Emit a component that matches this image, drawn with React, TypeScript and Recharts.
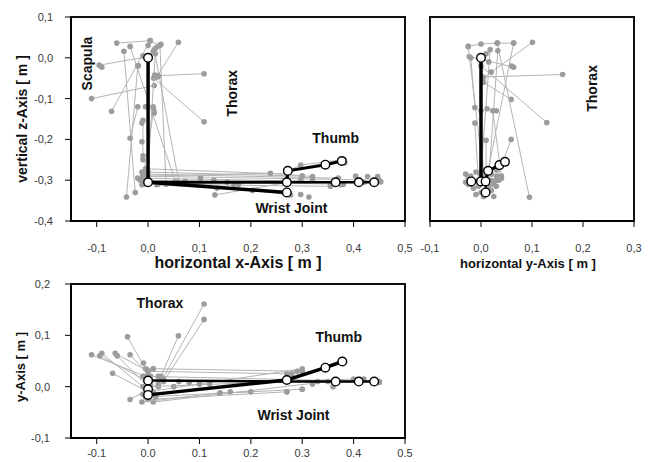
import React from 'react';
import { ScatterChart, Scatter, XAxis, YAxis, ReferenceArea, ReferenceDot, Label } from 'recharts';

type P = [number, number];

// ---------- Panel 1: horizontal x vs vertical z ----------
const xzTicksX = [-0.1, 0, 0.1, 0.2, 0.3, 0.4, 0.5];
const xzTicksY = [-0.4, -0.3, -0.2, -0.1, 0, 0.1];
const xzTraces: P[][] = [
  [[-0.061, 0.036], [0.004, 0.042], [0.022, 0.03]],
  [[0.059, 0.038], [0.017, -0.047]],
  [[-0.095, -0.018], [-0.003, 0.002]],
  [[-0.11, -0.1], [0.012, -0.068]],
  [[0.016, -0.044], [0.109, -0.039]],
  [[0.011, -0.05], [0.109, -0.157]],
  [[-0.071, -0.131], [0.004, 0.042]],
  [[-0.035, 0.028], [0.053, -0.303]],
  [[0.023, 0.03], [0.035, -0.31]],
  [[0.012, 0.02], [0.06, -0.305]],
  [[-0.02, -0.02], [-0.042, -0.341]],
  [[-0.047, 0.016], [-0.025, -0.33]],
  [[0.011, -0.128], [-0.012, -0.311]],
  [[-0.035, -0.197], [-0.02, -0.12]],
  [[0.014, 0.01], [0.0, -0.28]],
  [[-0.01, -0.153], [-0.01, -0.25]],
  [[-0.005, -0.272], [0.27, -0.285]],
  [[-0.005, -0.28], [0.3, -0.29]],
  [[-0.01, -0.285], [0.37, -0.295]],
  [[-0.008, -0.29], [0.45, -0.3]],
  [[-0.01, -0.295], [0.42, -0.305]],
  [[-0.012, -0.3], [0.38, -0.31]],
  [[0.02, -0.31], [0.355, -0.315]],
  [[0.13, -0.336], [0.297, -0.3]],
  [[0.0, -0.29], [0.238, -0.283], [0.32, -0.291]],
  [[0.017, -0.311], [0.203, -0.325], [0.277, -0.336]],
  [[0.274, -0.276], [0.297, -0.263], [0.381, -0.249]],
];
const xzPoints: P[] = [
  [-0.09, -0.023], [-0.019, -0.019], [0.013, -0.042], [0.02, -0.045], [-0.01, 0.005], [0.01, 0.015],
  [0.016, 0.025], [0.025, 0.033], [0.0, 0.03], [0.01, -0.12], [0.012, -0.135], [-0.005, -0.12],
  [-0.012, -0.16], [-0.012, -0.206], [-0.01, -0.24], [-0.012, -0.28], [-0.01, -0.29], [-0.015, -0.3],
  [-0.005, -0.31], [-0.02, -0.295], [0.049, -0.307], [0.072, -0.303], [0.102, -0.295], [0.128, -0.3],
  [0.154, -0.305], [0.176, -0.31], [0.134, -0.32], [0.167, -0.31], [0.355, -0.31], [0.375, -0.311],
  [0.404, -0.29], [0.427, -0.291], [0.447, -0.291], [0.453, -0.304], [0.383, -0.257], [0.297, -0.335],
  [0.313, -0.341], [0.3, -0.29], [0.32, -0.3],
];
const xzUpperArm: P[] = [[0, 0], [0, -0.305]];
const xzForearmWrist: P[] = [[0, -0.305], [0.27, -0.33]];
const xzForearm: P[] = [[0, -0.305], [0.27, -0.305]];
const xzHand: P[] = [[0.27, -0.305], [0.365, -0.305], [0.41, -0.305], [0.44, -0.305]];
const xzThumb: P[] = [[0.27, -0.305], [0.272, -0.277], [0.345, -0.262], [0.377, -0.253]];

// ---------- Panel 2: horizontal y vs vertical z ----------
const yzTicksX = [-0.1, 0, 0.1, 0.2, 0.3];
const yzTraces: P[][] = [
  [[-0.025, 0.028], [0.0, 0.034], [0.032, 0.036], [0.064, 0.036]],
  [[0.101, 0.038], [0.004, -0.05]],
  [[0.004, -0.047], [0.16, -0.041]],
  [[-0.023, 0.003], [0.064, -0.023]],
  [[0.0, -0.02], [0.129, -0.159]],
  [[0.059, -0.102], [0.005, -0.06]],
  [[-0.025, 0.028], [0.005, -0.29]],
  [[-0.02, 0.0], [-0.012, -0.122]],
  [[0.064, 0.036], [0.01, -0.3]],
  [[0.032, 0.036], [0.095, -0.342]],
  [[0.018, 0.02], [0.0, -0.28]],
  [[0.033, 0.017], [0.015, -0.3]],
  [[0.0, -0.13], [0.005, -0.3]],
  [[0.059, -0.2], [0.03, -0.3]],
  [[0.023, -0.13], [0.04, -0.29]],
  [[-0.012, -0.16], [-0.005, -0.3]],
  [[0.01, -0.202], [0.01, -0.28]],
];
const yzPoints: P[] = [
  [0.01, 0.01], [0.015, -0.01], [0.02, -0.035], [0.06, -0.02], [0.012, -0.125], [0.03, -0.13],
  [-0.03, -0.285], [-0.025, -0.295], [-0.02, -0.29], [-0.01, -0.28], [0.0, -0.285], [0.01, -0.29],
  [0.02, -0.285], [0.03, -0.29], [0.035, -0.3], [0.025, -0.31], [0.015, -0.315], [-0.005, -0.315],
  [-0.02, -0.31], [-0.03, -0.305], [-0.015, -0.32], [0.0, -0.33], [0.02, -0.325], [0.03, -0.315],
  [-0.01, -0.335], [0.005, -0.34], [0.025, -0.34], [0.01, -0.275], [-0.025, -0.31], [0.04, -0.295],
  [0.02, -0.3], [-0.005, -0.3], [0.03, -0.275],
];
const yzUpperArm: P[] = [[0, 0], [0, -0.303]];
const yzElbow: P[] = [[-0.019, -0.303], [0, -0.303], [0.009, -0.303]];
const yzWrist: P[] = [[0.009, -0.303], [0.009, -0.33]];
const yzThumb: P[] = [[0.009, -0.303], [0.014, -0.277], [0.036, -0.263], [0.047, -0.255]];

// ---------- Panel 3: horizontal x vs y ----------
const xyTicksX = [-0.1, 0, 0.1, 0.2, 0.3, 0.4, 0.5];
const xyTicksY = [-0.1, 0, 0.1, 0.2];
const xyTraces: P[][] = [
  [[-0.11, 0.062], [-0.005, 0.02]],
  [[-0.094, 0.06], [0.0, 0.01]],
  [[-0.09, 0.065], [-0.01, 0.0]],
  [[-0.064, 0.065], [0.0, 0.03]],
  [[-0.06, 0.06], [0.01, -0.01]],
  [[-0.04, 0.097], [-0.005, 0.035]],
  [[-0.035, 0.062], [0.005, 0.02]],
  [[-0.069, 0.026], [0.0, -0.01]],
  [[-0.035, -0.025], [0.02, 0.005]],
  [[0.109, 0.161], [0.02, 0.0]],
  [[0.109, 0.131], [0.03, 0.01]],
  [[0.059, 0.099], [0.025, 0.02]],
  [[0.0, 0.03], [0.27, 0.025]],
  [[0.01, 0.035], [0.3, 0.03]],
  [[0.0, 0.02], [0.45, 0.01]],
  [[0.0, 0.0], [0.4, 0.015]],
  [[-0.005, -0.02], [0.3, -0.005]],
  [[0.0, -0.025], [0.27, -0.01]],
  [[0.01, -0.03], [0.35, 0.01]],
  [[0.0, -0.01], [0.3, 0.035]],
  [[-0.012, -0.03], [0.14, -0.012], [0.2, -0.01]],
];
const xyPoints: P[] = [
  [-0.009, 0.046], [-0.003, 0.034], [0.01, 0.035], [0.02, 0.02], [0.03, 0.015], [-0.01, 0.02],
  [0.005, 0.005], [-0.01, -0.015], [0.015, -0.02], [0.06, 0.01], [0.08, 0.008], [0.1, 0.005],
  [0.12, 0.005], [0.16, -0.01], [0.27, -0.01], [0.3, -0.005], [0.33, 0.01], [0.36, 0.0],
  [0.42, 0.015], [0.44, 0.01], [0.45, 0.008], [0.28, 0.025], [0.38, 0.05], [0.05, 0.0],
  [0.29, 0.03], [0.32, 0.005],
];
const xyShoulderElbow: P[] = [[0, 0.012], [0, -0.005], [0, -0.016]];
const xyRadiusThumb: P[] = [[0, -0.016], [0.27, 0.013], [0.345, 0.037], [0.378, 0.049]];
const xyHand: P[] = [[0, 0.012], [0.27, 0.01], [0.365, 0.01], [0.41, 0.01], [0.44, 0.01]];

const FONT = '"Liberation Sans", Arial, sans-serif';

const toPts = (a: P[]) => a.map(([x, y]) => ({ x, y }));
const fmtComma = (v: number) => v.toFixed(1).replace('.', ',').replace('-0,0', '0,0');
const fmtDot = (v: number) => v.toFixed(1).replace('-0.0', '0.0');

const GrayDot = (p: any) => <circle cx={p.cx} cy={p.cy} r={2.8} fill="#9c9c9c" />;
const WhiteDot = (p: any) => (
  <circle cx={p.cx} cy={p.cy} r={4.3} fill="#ffffff" stroke="#000" strokeWidth={1.4} />
);
const NoDot = () => <g />;

const tickStyle = { fontSize: 11, fill: '#3a3a3a', fontFamily: FONT };
const annoStyle = { fontSize: 14, fontWeight: 'bold', fill: '#111', fontFamily: FONT };

function grayLayer(traces: P[][], pts: P[], prefix: string) {
  const out: React.ReactNode[] = traces.map((t, i) => (
    <Scatter
      key={prefix + 't' + i}
      data={toPts(t)}
      line={{ stroke: '#b4b4b4', strokeWidth: 1 }}
      shape={GrayDot}
      isAnimationActive={false}
    />
  ));
  out.push(
    <Scatter key={prefix + 'pts'} data={toPts(pts)} shape={GrayDot} isAnimationActive={false} />
  );
  return out;
}

function bone(pts: P[], width: number, key: string) {
  return (
    <Scatter
      key={key}
      data={toPts(pts)}
      line={{ stroke: '#000', strokeWidth: width }}
      shape={NoDot}
      isAnimationActive={false}
    />
  );
}

function joints(pts: P[], key: string) {
  return <Scatter key={key} data={toPts(pts)} shape={WhiteDot} isAnimationActive={false} />;
}

function anno(x: number, y: number, text: string, rotate: boolean) {
  return (
    <ReferenceDot
      key={text + x + y}
      x={x}
      y={y}
      r={0}
      fill="none"
      stroke="none"
      ifOverflow="visible"
      label={{ value: text, position: 'center', angle: rotate ? -90 : 0, ...annoStyle }}
    />
  );
}

export default function App() {
  return (
    <div style={{ position: 'absolute', left: 0, top: 0, width: 652, height: 462, background: '#fff' }}>
      {/* Panel 1 */}
      <div style={{ position: 'absolute', left: 0, top: 0 }}>
        <ScatterChart width={420} height={280} margin={{ top: 17, right: 15, bottom: 0, left: 0 }}>
          <XAxis
            type="number"
            dataKey="x"
            domain={[-0.15, 0.5]}
            ticks={xzTicksX}
            tickFormatter={fmtComma}
            allowDataOverflow
            height={59}
            tickSize={6}
            tickMargin={17}
            tick={tickStyle}
            axisLine={{ stroke: '#000', strokeWidth: 2 }}
            tickLine={{ stroke: '#000' }}
          >
            <Label
              content={(p: any) => (
                <text
                  x={p.viewBox.x + p.viewBox.width / 2}
                  y={p.viewBox.y + 47}
                  textAnchor="middle"
                  fontSize={16}
                  fontWeight="bold"
                  fill="#111"
                  fontFamily={FONT}
                >
                  horizontal x-Axis [ m ]
                </text>
              )}
            />
          </XAxis>
          <YAxis
            type="number"
            dataKey="y"
            domain={[-0.4, 0.1]}
            ticks={xzTicksY}
            tickFormatter={fmtComma}
            allowDataOverflow
            width={71}
            tickSize={6}
            tickMargin={12}
            tick={tickStyle}
            axisLine={{ stroke: '#000', strokeWidth: 2 }}
            tickLine={{ stroke: '#000' }}
          >
            <Label
              content={(p: any) => (
                <text
                  x={22}
                  y={p.viewBox.y + p.viewBox.height / 2}
                  transform={`rotate(-90, 22, ${p.viewBox.y + p.viewBox.height / 2})`}
                  textAnchor="middle"
                  dominantBaseline="central"
                  fontSize={14}
                  fontWeight="bold"
                  fill="#111"
                  fontFamily={FONT}
                >
                  vertical z-Axis [ m ]
                </text>
              )}
            />
          </YAxis>
          <ReferenceArea x1={-0.15} x2={0.5} y1={-0.4} y2={0.1} fill="none" fillOpacity={0} stroke="#111" strokeWidth={2} ifOverflow="visible" />
          {grayLayer(xzTraces, xzPoints, 'xz')}
          {bone(xzUpperArm, 3.5, 'xzua')}
          {bone(xzForearmWrist, 3.5, 'xzfw')}
          {bone(xzForearm, 3, 'xzf')}
          {bone(xzHand, 2.5, 'xzh')}
          {bone(xzThumb, 3, 'xzt')}
          {joints([xzUpperArm[0], xzUpperArm[1], xzForearmWrist[1], ...xzHand, ...xzThumb.slice(1)], 'xzj')}
          {anno(-0.119, -0.014, 'Scapula', true)}
          {anno(0.164, -0.087, 'Thorax', true)}
          {anno(0.365, -0.197, 'Thumb', false)}
          {anno(0.279, -0.368, 'Wrist Joint', false)}
        </ScatterChart>
      </div>

      {/* Panel 2 */}
      <div style={{ position: 'absolute', left: 410, top: 0 }}>
        <ScatterChart width={242} height={280} margin={{ top: 17, right: 18, bottom: 0, left: 20 }}>
          <XAxis
            type="number"
            dataKey="x"
            domain={[-0.1, 0.3]}
            ticks={yzTicksX}
            tickFormatter={fmtComma}
            allowDataOverflow
            height={59}
            tickSize={6}
            tickMargin={17}
            tick={tickStyle}
            axisLine={{ stroke: '#000', strokeWidth: 2 }}
            tickLine={{ stroke: '#000' }}
          >
            <Label
              content={(p: any) => (
                <text
                  x={p.viewBox.x + p.viewBox.width / 2 - 4}
                  y={p.viewBox.y + 47}
                  textAnchor="middle"
                  fontSize={13}
                  fontWeight="bold"
                  fill="#111"
                  fontFamily={FONT}
                >
                  horizontal y-Axis [ m ]
                </text>
              )}
            />
          </XAxis>
          <YAxis type="number" dataKey="y" domain={[-0.4, 0.1]} allowDataOverflow hide />
          <ReferenceArea x1={-0.1} x2={0.3} y1={-0.4} y2={0.1} fill="none" fillOpacity={0} stroke="#111" strokeWidth={2} ifOverflow="visible" />
          {grayLayer(yzTraces, yzPoints, 'yz')}
          {bone(yzUpperArm, 3.5, 'yzua')}
          {bone(yzElbow, 2.5, 'yze')}
          {bone(yzWrist, 2, 'yzw')}
          {bone(yzThumb, 3, 'yzt')}
          {joints([yzUpperArm[0], ...yzElbow, yzWrist[1], ...yzThumb.slice(1)], 'yzj')}
          {anno(0.218, -0.075, 'Thorax', true)}
        </ScatterChart>
      </div>

      {/* Panel 3 */}
      <div style={{ position: 'absolute', left: 0, top: 270 }}>
        <ScatterChart width={420} height={192} margin={{ top: 14, right: 15, bottom: 0, left: 0 }}>
          <XAxis
            type="number"
            dataKey="x"
            domain={[-0.15, 0.5]}
            ticks={xyTicksX}
            tickFormatter={fmtDot}
            allowDataOverflow
            height={24}
            tickSize={6}
            tickMargin={5}
            tick={tickStyle}
            axisLine={{ stroke: '#000', strokeWidth: 2 }}
            tickLine={{ stroke: '#000' }}
          />
          <YAxis
            type="number"
            dataKey="y"
            domain={[-0.1, 0.2]}
            ticks={xyTicksY}
            tickFormatter={fmtComma}
            allowDataOverflow
            width={71}
            tickSize={6}
            tickMargin={15}
            tick={tickStyle}
            axisLine={{ stroke: '#000', strokeWidth: 2 }}
            tickLine={{ stroke: '#000' }}
          >
            <Label
              content={(p: any) => (
                <text
                  x={20}
                  y={p.viewBox.y + p.viewBox.height / 2 + 6}
                  transform={`rotate(-90, 20, ${p.viewBox.y + p.viewBox.height / 2 + 6})`}
                  textAnchor="middle"
                  dominantBaseline="central"
                  fontSize={13}
                  fontWeight="bold"
                  fill="#111"
                  fontFamily={FONT}
                >
                  y-Axis [ m ]
                </text>
              )}
            />
          </YAxis>
          <ReferenceArea x1={-0.15} x2={0.5} y1={-0.1} y2={0.2} fill="none" fillOpacity={0} stroke="#111" strokeWidth={2} ifOverflow="visible" />
          {grayLayer(xyTraces, xyPoints, 'xy')}
          {bone(xyShoulderElbow, 2, 'xyse')}
          {bone(xyRadiusThumb, 3.5, 'xyrt')}
          {bone(xyHand, 2.5, 'xyh')}
          {joints([...xyShoulderElbow, ...xyRadiusThumb.slice(1), ...xyHand.slice(2)], 'xyj')}
          {anno(0.023, 0.163, 'Thorax', false)}
          {anno(0.371, 0.097, 'Thumb', false)}
          {anno(0.283, -0.055, 'Wrist Joint', false)}
        </ScatterChart>
      </div>
    </div>
  );
}
